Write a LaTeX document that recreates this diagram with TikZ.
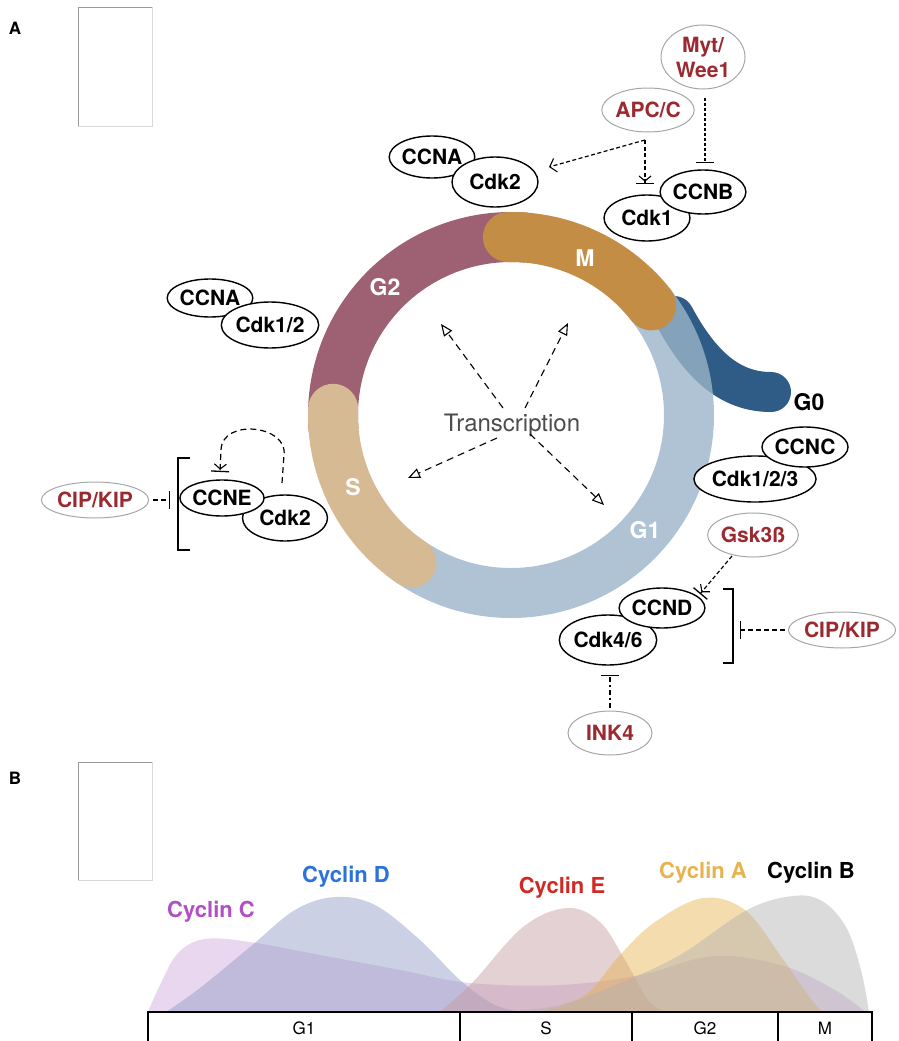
\documentclass[tikz,border=0pt]{standalone}
\usepackage{fontspec}
\setmainfont{TeX Gyre Heros}
\usetikzlibrary{shapes.geometric,arrows.meta}
\definecolor{regred}{HTML}{9B2A30}
\definecolor{g2col}{HTML}{9E6173}
\definecolor{mcol}{HTML}{C38D45}
\definecolor{scol}{HTML}{D6BA93}
\definecolor{g1col}{HTML}{9BB4C9}
\definecolor{g0col}{HTML}{2F5C86}
\definecolor{cycCf}{HTML}{C79BD6}
\definecolor{cycDf}{HTML}{8F97C4}
\definecolor{cycEf}{HTML}{C4989E}
\definecolor{cycAf}{HTML}{E6B24C}
\definecolor{cycBf}{HTML}{B0B0B0}
\definecolor{cycCt}{HTML}{B34FC4}
\definecolor{cycDt}{HTML}{2B72DB}
\definecolor{cycEt}{HTML}{D02A25}
\definecolor{cycAt}{HTML}{E8B24E}
\begin{document}
\begin{tikzpicture}[x=1pt,y=-1pt,
  cell/.style={ellipse,draw=black,line width=1.4pt,fill=white,inner sep=0pt,font=\fontsize{21}{22}\selectfont\bfseries},
  reg/.style={ellipse,draw=black!35,line width=1pt,fill=white,inner sep=0pt,text=regred,font=\fontsize{21}{25}\selectfont\bfseries},
  dsh/.style={line width=1.2pt,dash pattern=on 4pt off 2.5pt},
  tdash/.style={line width=1.1pt,dash pattern=on 7pt off 5pt,-{Triangle[open,length=12pt,width=10pt,line width=1.1pt]}},
  inh/.style={-{Bar[width=18pt,line width=1.3pt]}},
  actinh/.style={-{Straight Barb[length=5pt,width=12pt,line width=1.1pt,sep=1pt] Bar[width=18pt,line width=1.3pt]}},
  act/.style={-{Straight Barb[length=6pt,width=14pt,line width=1.1pt]}},
  phase/.style={text=white,font=\fontsize{23}{23}\selectfont\bfseries},
  cyclab/.style={font=\fontsize{22}{22}\selectfont\bfseries},
  axlab/.style={font=\fontsize{17}{17}\selectfont},
  panel/.style={font=\fontsize{17}{17}\selectfont\bfseries}]
\useasboundingbox (0,0) rectangle (898,1041);

% panel labels and blank frames
\node[panel] (pA) at (15,28) {A};
\node[panel] (pB) at (15,778) {B};
\draw[black!15,line width=0.8pt] (152,7) -- (152,126) -- (78,126);
\draw[black!40,line width=0.8pt] (78,126) -- (78,7) -- (152,7);
\draw[black!15,line width=0.8pt] (152,762) -- (152,880) -- (78,880);
\draw[black!40,line width=0.8pt] (78,880) -- (78,762) -- (152,762);

% ring
\coordinate (ctr) at (511,415);
\draw[g0col,line width=40pt,line cap=round] (674,316) .. controls (702,368) and (732,392) .. (771,392);
\draw[g1col,line width=50pt,draw opacity=0.8] ([shift={(128:178)}]ctr) arc[start angle=128,end angle=-45,radius=178];
\draw[g2col,line width=50pt] ([shift={(-85:178)}]ctr) arc[start angle=-85,end angle=-185,radius=178];
\draw[scol,line width=50pt,line cap=round] ([shift={(-178:178)}]ctr) arc[start angle=-178,end angle=-236,radius=178];
\draw[mcol,line width=50pt,line cap=round] ([shift={(-38:178)}]ctr) arc[start angle=-38,end angle=-91,radius=178];

\node[phase] (lM) at (585,258) {M};
\node[phase] (lG2) at (385,287) {G2};
\node[phase] (lS) at (353,487) {S};
\node[phase] (lG1) at (645,530) {G1};
\node[font=\fontsize{23}{23}\selectfont\bfseries] (lG0) at (809,402) {G0};

% transcription
\node[text=black!70,font=\fontsize{24}{24}\selectfont] (tr) at (512,425) {Transcription};
\coordinate (tulS) at (503,408); \coordinate (tulT) at (441,324);
\coordinate (turS) at (525,408); \coordinate (turT) at (568,323);
\coordinate (tdlS) at (497,438); \coordinate (tdlT) at (408,478);
\coordinate (tdrS) at (530,434); \coordinate (tdrT) at (604,505);
\draw[tdash] (tulS) -- (tulT);
\draw[tdash] (turS) -- (turT);
\draw[tdash] (tdlS) -- (tdlT);
\draw[tdash] (tdrS) -- (tdrT);

% top complexes
\node[cell,minimum width=74pt,minimum height=42pt] (ccnaT) at (432,157) {CCNA};
\node[cell,minimum width=86pt,minimum height=50pt] (cdk2T) at (495,182) {Cdk2};
\node[cell,minimum width=86pt,minimum height=46pt] (cdk1) at (647,218) {Cdk1};
\node[cell,minimum width=74pt,minimum height=44pt] (ccnb) at (703,192) {CCNB};
\node[reg,minimum width=84pt,minimum height=64pt,align=center] (myt) at (703,57) {Myt/\\Wee1};
\node[reg,minimum width=75pt,minimum height=44pt] (apc) at (648,110) {APC/C};

\coordinate (apcJ) at (645,140);
\coordinate (cdk2Tip) at (549,167);
\coordinate (cdk1Bar) at (645,184);
\coordinate (ccnbBar) at (705,163);
\draw[dsh,act] (apcJ) -- (cdk2Tip);
\draw[dsh,actinh] (apcJ) -- (cdk1Bar);
\draw[dsh,inh,dash pattern=on 3pt off 2pt] (myt.south) ++(2,8) coordinate (mytS) -- (ccnbBar);

% left upper complex
\node[cell,minimum width=74pt,minimum height=38pt] (ccnaL) at (210,298) {CCNA};
\node[cell,minimum width=80pt,minimum height=46pt] (cdk12) at (270,325) {Cdk1/2};

% left CCNE complex
\node[cell,minimum width=85pt,minimum height=46pt] (cdk2L) at (285,518) {Cdk2};
\node[cell,minimum width=74pt,minimum height=36pt] (ccne) at (222,498) {CCNE};
\node[reg,minimum width=82pt,minimum height=36pt] (cipL) at (95,500) {CIP/KIP};
\coordinate (loopS) at (282,483);
\coordinate (loopE) at (220,472);
\draw[dsh,dash pattern=on 6pt off 4pt,actinh] (loopS) -- (284,455) .. controls (288,425) and (222,418) .. (221,450) -- (loopE);
\draw[line width=1.3pt] (190,458) -- (178,458) -- (178,550) -- (190,550);
\coordinate (cipLBar) at (170,500);
\draw[dsh,inh,dash pattern=on 5pt off 3pt] (cipL.east) ++(4,0) coordinate (cipLS) -- (cipLBar);

% right complexes
\node[cell,minimum width=96pt,minimum height=46pt] (cdk123) at (755,479) {Cdk1/2/3};
\node[cell,minimum width=72pt,minimum height=40pt] (ccnc) at (805,447) {CCNC};
\node[reg,minimum width=84pt,minimum height=44pt] (gsk) at (753,535) {Gsk3ß};
\node[cell,minimum width=86pt,minimum height=50pt] (cdk46) at (608,640) {Cdk4/6};
\node[cell,minimum width=72pt,minimum height=40pt] (ccnd) at (662,608) {CCND};
\node[reg,minimum width=82pt,minimum height=36pt] (cipR) at (842,630) {CIP/KIP};
\node[reg,minimum width=84pt,minimum height=44pt] (ink4) at (610,733) {INK4};

\coordinate (gskS) at (732,556);
\coordinate (ccndBar) at (700,594);
\draw[dsh,actinh] (gskS) -- (ccndBar);
\draw[line width=1.3pt] (723,589) -- (733,589) -- (733,663) -- (723,663);
\coordinate (cipRBar) at (740,630);
\draw[dsh,inh,dash pattern=on 5pt off 3pt] (cipR.west) ++(-3,0) coordinate (cipRS) -- (cipRBar);
\coordinate (ink4Bar) at (610,675);
\draw[dsh,inh,dash pattern=on 5pt off 3pt on 2pt off 3pt] (ink4.north) ++(0,-3) coordinate (ink4S) -- (ink4Bar);

% panel B curves
\fill[cycCf,fill opacity=0.4] plot[smooth,tension=0.6] coordinates {(148,1012) (160,985) (178,953) (205,939) (250,942) (320,955) (400,970) (470,983) (560,985) (640,975) (700,958) (740,957) (790,968) (835,990) (866,1012)} -- cycle;
\fill[cycDf,fill opacity=0.45] plot[smooth,tension=0.6] coordinates {(166,1012) (200,988) (250,947) (295,910) (335,897) (375,905) (420,940) (460,980) (495,1005) (525,1012)} -- cycle;
\fill[cycEf,fill opacity=0.45] plot[smooth,tension=0.6] coordinates {(440,1012) (473,982) (523,927) (567,908) (600,922) (625,960) (648,1000) (665,1012)} -- cycle;
\fill[cycAf,fill opacity=0.45] plot[smooth,tension=0.6] coordinates {(540,1012) (585,995) (620,955) (655,922) (703,898) (745,910) (780,955) (808,995) (822,1012)} -- cycle;
\fill[cycBf,fill opacity=0.45] plot[smooth,tension=0.6] coordinates {(500,1012) (560,1005) (620,983) (680,955) (747,910) (793,896) (822,901) (846,927) (861,970) (869,1012)} -- cycle;

\node[cyclab,text=cycCt] (labC) at (211,912) {Cyclin C};
\node[cyclab,text=cycDt] (labD) at (346,877) {Cyclin D};
\node[cyclab,text=cycEt] (labE) at (562,888) {Cyclin E};
\node[cyclab,text=cycAt] (labA) at (703,873) {Cyclin A};
\node[cyclab,text=black] (labB) at (811,873) {Cyclin B};

% axis
\draw[line width=1.4pt] (148,1045) -- (148,1012) -- (872,1012) -- (872,1045);
\draw[line width=1.4pt] (460,1012) -- (460,1045);
\draw[line width=1.4pt] (632,1012) -- (632,1045);
\draw[line width=1.4pt] (778,1012) -- (778,1045);
\node[axlab] (aG1) at (304,1028) {G1};
\node[axlab] (aS) at (546,1028) {S};
\node[axlab] (aG2) at (705,1028) {G2};
\node[axlab] (aM) at (825,1028) {M};
\end{tikzpicture}
\end{document}
